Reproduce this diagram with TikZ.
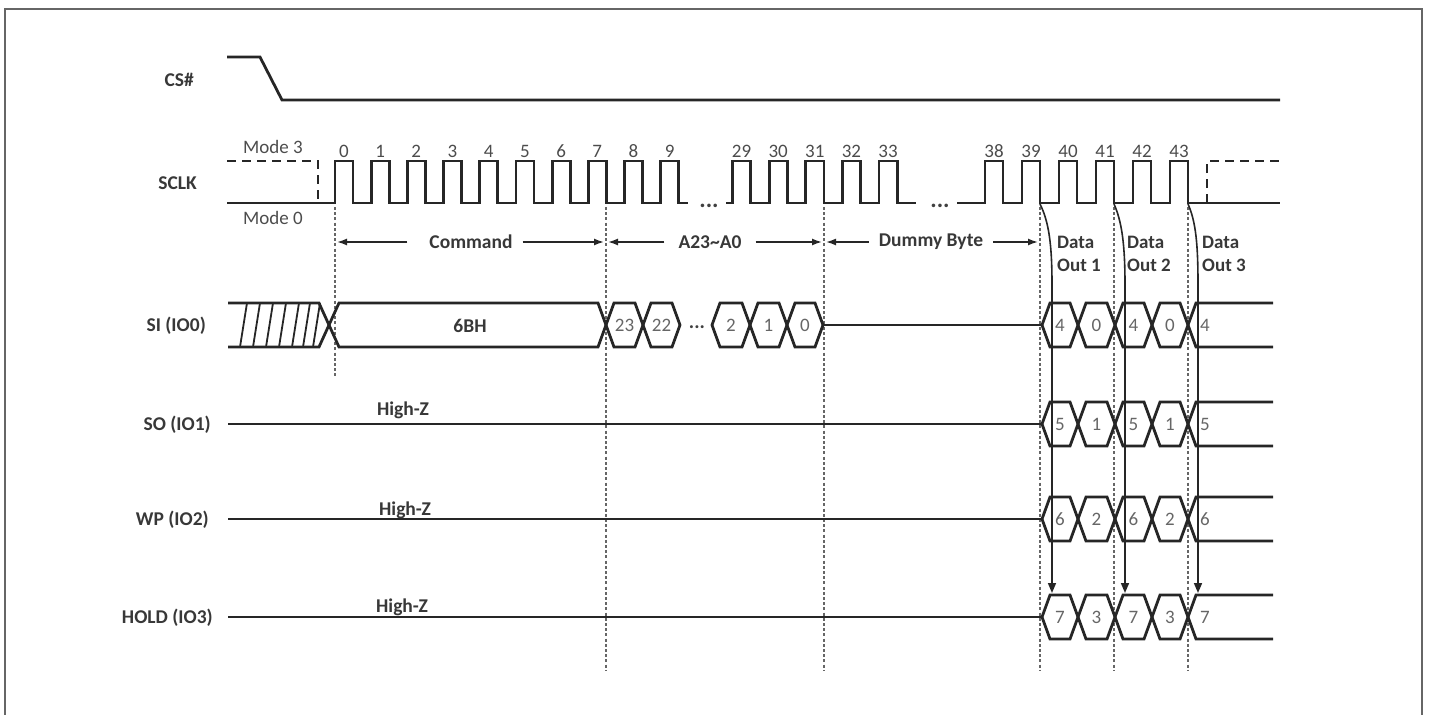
\documentclass[tikz,border=0pt]{standalone}
\usepackage{fontspec}
\setmainfont{Carlito}
\usetikzlibrary{arrows.meta}
\newcommand{\hexc}[5]{%
  \draw[sig] (#2,#4) -- ({#2+8},{#4-22}) -- ({#3-8},{#4-22}) -- (#3,#4) -- ({#3-8},{#4+22}) -- ({#2+8},{#4+22}) -- cycle;
  \node[dig] (#1) at ({(#2+#3)/2},#4) {#5};}
\newcommand{\datarow}[7]{% prefix, mid y, start x, d1, d2, d3(last), x of last
  \draw[sig] (#3,#2) -- (1042,#2);
  \hexc{#1a}{1042}{1078}{#2}{#4}
  \hexc{#1b}{1078}{1115}{#2}{#5}
  \hexc{#1c}{1115}{1152}{#2}{#4}
  \hexc{#1d}{1152}{1188}{#2}{#5}
  \draw[sig] (1273,{#2-22}) -- (1196,{#2-22}) -- (1188,#2) -- (1196,{#2+22}) -- (1273,{#2+22});
  \node[dig] (#1e) at (#7,#2) {#6};}
\begin{document}
\begin{tikzpicture}[x=1pt,y=-1pt,
  sig/.style={line width=2.8pt, draw=black!85, line join=miter},
  thinsig/.style={line width=1.8pt, draw=black!85},
  vdash/.style={line width=1.3pt, draw=black!60, dash pattern=on 3pt off 2.2pt},
  mdash/.style={line width=2.8pt, draw=black!85, dash pattern=on 9pt off 6pt},
  lbl/.style={font=\fontsize{19.5}{23}\selectfont\bfseries, text=black!78, inner sep=0pt},
  num/.style={font=\fontsize{19}{22}\selectfont, text=black!70, inner sep=0pt, anchor=base},
  dig/.style={font=\fontsize{19}{22}\selectfont, text=black!60, inner sep=0pt},
  dots/.style={font=\fontsize{24}{26}\selectfont\bfseries, text=black!75, inner sep=0pt, anchor=base},
  arr/.style={line width=1.6pt, draw=black!85, -{Latex[length=10pt,width=7pt]}},
  darr/.style={line width=1.6pt, draw=black!85, -{Triangle[length=10pt,width=8pt]}},
  frame/.style={line width=2pt, draw=black!60}]
\useasboundingbox (0,0) rectangle (1430,715);
\draw[frame] (5,9) rectangle (1422,740);

% ---------- CS# ----------
\node[lbl, anchor=east] (lcs) at (194,80) {CS\#};
\draw[sig] (227,57) -- (260,57) -- (282,100) -- (1280,100);

% ---------- SCLK ----------
\node[lbl, anchor=east] (lsclk) at (197,183) {SCLK};
\draw[mdash] (227,161) -- (318,161) -- (318,203);
\draw[sig] (227,203) -- (335,203)
  \foreach \k in {0,...,9} { -- ({335+36.2*\k},203) -- ({335+36.2*\k},161) -- ({352.9+36.2*\k},161) -- ({352.9+36.2*\k},203) } -- (688,203);
\draw[sig] (726,203)
  \foreach \k in {0,...,4} { -- ({732.5+36.6*\k},203) -- ({732.5+36.6*\k},161) -- ({750.8+36.6*\k},161) -- ({750.8+36.6*\k},203) } -- (916,203);
\draw[sig] (957,203)
  \foreach \k in {0,...,5} { -- ({985+37*\k},203) -- ({985+37*\k},161) -- ({1003+37*\k},161) -- ({1003+37*\k},203) } -- (1280,203);
\draw[mdash] (1207,203) -- (1207,161) -- (1280,161);
\foreach \k in {0,...,9} \node[num] (n\k) at ({343.9+36.2*\k},157) {\k};
\foreach \k/\n in {0/29,1/30,2/31,3/32,4/33} \node[num] (n\n) at ({741.6+36.6*\k},157) {\n};
\foreach \k/\n in {0/38,1/39,2/40,3/41,4/42,5/43} \node[num] (n\n) at ({994+37*\k},157) {\n};
\node[num] (m3) at (273,153) {Mode 3};
\node[num] (m0) at (273,224) {Mode 0};
\node[dots] (ck1) at (709,207) {...};
\node[dots] (ck2) at (940,207) {...};

% ---------- dashed markers ----------
\draw[vdash] (335,207) -- (335,376);
\foreach \x in {606,824,1040,1114,1188} \draw[vdash] (\x,207) -- (\x,670);

% ---------- phase arrows ----------
\coordinate (p1) at (337,242); \coordinate (p2) at (604,242);
\coordinate (p3) at (608,242); \coordinate (p4) at (822,242);
\coordinate (p5) at (826,242); \coordinate (p6) at (1038,242);
\node[lbl] (cmd) at (471,242) {Command};
\draw[arr] ([xshift=-22pt]cmd.west) -- (p1);
\draw[arr] ([xshift=10pt]cmd.east) -- (p2);
\node[lbl] (addr) at (710,242) {A23\char"7E A0};
\draw[arr] ([xshift=-14pt]addr.west) -- (p3);
\draw[arr] ([xshift=14pt]addr.east) -- (p4);
\node[lbl] (dum) at (931,242) {Dummy Byte};
\draw[arr] ([xshift=-10pt]dum.west) -- (p5);
\draw[arr] ([xshift=10pt]dum.east) -- (p6);

\node[lbl, align=left, anchor=north west, font=\fontsize{19}{23}\selectfont\bfseries] (do1) at (1057,236) {Data\\Out 1};
\node[lbl, align=left, anchor=north west, font=\fontsize{19}{23}\selectfont\bfseries] (do2) at (1127,236) {Data\\Out 2};
\node[lbl, align=left, anchor=north west, font=\fontsize{19}{23}\selectfont\bfseries] (do3) at (1202,236) {Data\\Out 3};

% ---------- SI (IO0) ----------
\node[lbl, anchor=east] (lsi) at (206,326) {SI (IO0)};
\draw[sig] (228,303) -- (319,303) -- (329,325) -- (319,347) -- (228,347);
\foreach \b in {240,253,266,279,292,303,313} \draw[thinsig] (\b,347) -- ({\b+7},303);
\draw[sig] (329,325) -- (339,303) -- (598,303) -- (606,325) -- (598,347) -- (339,347) -- cycle;
\node[lbl] (cmdv) at (470,326) {6BH};
\hexc{a23}{606}{643}{325}{23}
\hexc{a22}{643}{680}{325}{22}
\node[dots, font=\fontsize{20}{22}\selectfont\bfseries] (sidots) at (697,328) {...};
\hexc{a2}{712}{750}{325}{2}
\hexc{a1}{750}{787}{325}{1}
\hexc{a0}{787}{823}{325}{0}
\datarow{si}{325}{823}{4}{0}{4}{1205}

% ---------- SO / WP / HOLD ----------
\node[lbl, anchor=east] (lso) at (211,425) {SO (IO1)};
\datarow{so}{424}{228}{5}{1}{5}{1205}
\node[lbl, anchor=base] (hz1) at (403,415) {High-Z};

\node[lbl, anchor=east] (lwp) at (209,520) {WP (IO2)};
\datarow{wp}{519}{228}{6}{2}{6}{1205}
\node[lbl, anchor=base] (hz2) at (405,515) {High-Z};

\node[lbl, anchor=east] (lhold) at (213,618) {HOLD (IO3)};
\datarow{ho}{617}{228}{7}{3}{7}{1205}
\node[lbl, anchor=base] (hz3) at (402,612) {High-Z};

% ---------- output arrows ----------
\coordinate (f39) at (1040,204); \coordinate (h39) at (1052,593);
\coordinate (f41) at (1114,204); \coordinate (h41) at (1125,593);
\coordinate (f43) at (1188,204); \coordinate (h43) at (1198,593);
\draw[darr] (f39) .. controls (1049,222) and (1052,245) .. (1052,285) -- (h39);
\draw[darr] (f41) .. controls (1122,222) and (1125,245) .. (1125,285) -- (h41);
\draw[darr] (f43) .. controls (1196,222) and (1198,245) .. (1198,285) -- (h43);
\end{tikzpicture}
\end{document}
